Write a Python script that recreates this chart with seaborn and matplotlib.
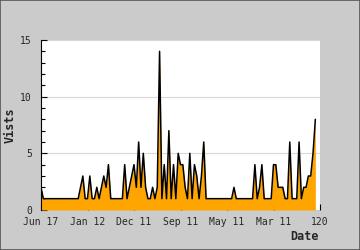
import matplotlib
matplotlib.use("Agg")
import matplotlib.pyplot as plt
import seaborn as sns
import numpy as np
import pandas as pd
from matplotlib.patches import Rectangle
from matplotlib.ticker import MultipleLocator

visits = [
    2, 1, 1, 1, 1, 1, 1, 1, 1, 1,
    1, 1, 1, 1, 1, 1, 1, 2, 3, 1,
    1, 3, 1, 1, 2, 1, 2, 3, 2, 4,
    1, 1, 1, 1, 1, 1, 4, 1, 2, 3,
    4, 2, 6, 2, 5, 2, 1, 1, 2, 1,
    2, 14, 1, 4, 1, 7, 1, 4, 1, 5,
    4, 4, 2, 1, 5, 1, 4, 3, 1, 3,
    6, 1, 1, 1, 1, 1, 1, 1, 1, 1,
    1, 1, 1, 2, 1, 1, 1, 1, 1, 1,
    1, 1, 4, 1, 2, 4, 1, 1, 1, 1,
    4, 4, 2, 2, 2, 1, 1, 6, 1, 1,
    1, 6, 1, 2, 2, 3, 3, 5, 8,
]
tick_positions = [0, 20, 40, 60, 80, 100, 120]
tick_labels = ["Jun 17", "Jan 12", "Dec 11", "Sep 11", "May 11", "Mar 11", "120"]
y_ticks = [0, 5, 10, 15]

df = pd.DataFrame({"idx": np.arange(len(visits)), "visits": visits})

sns.set_style("white")
plt.rcParams["font.family"] = ["DejaVu Sans Mono", "DejaVu Sans"]

fig = plt.figure(figsize=(3.6, 2.5), dpi=100)
bg = "#cbcbcb"
fig.patch.set_facecolor(bg)
ax = fig.add_axes([41 / 360, 1 - 210 / 250, 279 / 360, 170 / 250])
ax.set_facecolor("white")

ax.fill_between(df["idx"], 0, df["visits"], color="#ffa500", linewidth=0, zorder=2)
sns.lineplot(data=df, x="idx", y="visits", ax=ax, color="black", linewidth=1.1, zorder=3)

ax.set_xlim(0, 120)
ax.set_ylim(0, 15)
ax.set_yticks(y_ticks)
ax.yaxis.set_minor_locator(MultipleLocator(1))
ax.set_xticks(tick_positions)
ax.set_xticklabels(tick_labels)
ax.grid(axis="y", which="major", color="#d8d8d8", linewidth=0.8, zorder=1)
ax.set_axisbelow(True)

for s in ["top", "right", "bottom"]:
    ax.spines[s].set_visible(False)
ax.spines["left"].set_color("black")
ax.spines["left"].set_linewidth(0.8)
ax.spines["left"].set_zorder(4)

ax.tick_params(axis="y", which="major", direction="in", length=4, width=0.8,
               color="black", labelsize=7, pad=6.5, left=True)
ax.tick_params(axis="y", which="minor", direction="in", length=3, width=0.8,
               color="black", left=True)
ax.tick_params(axis="x", which="major", direction="in", length=4, width=0.8,
               color="black", labelsize=7, pad=5, bottom=True)
for t in ax.get_xticklabels() + ax.get_yticklabels():
    t.set_zorder(5)

ax.set_xlabel("")
ax.set_ylabel("")
fig.text(10 / 360, 1 - 125 / 250, "Vists", rotation=90, ha="center", va="center",
         fontsize=8.5, fontweight="bold")
fig.text(319 / 360, 1 - 236 / 250, "Date", ha="right", va="center",
         fontsize=8.5, fontweight="bold")

fig.patches.append(Rectangle((0, 0), 1, 1, transform=fig.transFigure, fill=False,
                             edgecolor="#555555", linewidth=1.2, zorder=10))

fig.savefig("out.png", dpi=100, facecolor=bg)
